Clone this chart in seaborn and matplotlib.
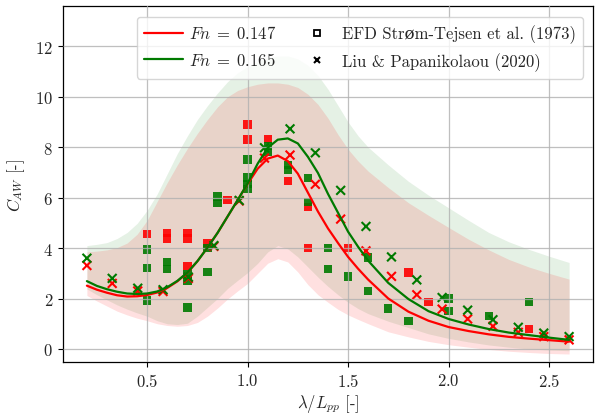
import matplotlib
matplotlib.use("Agg")
import matplotlib.pyplot as plt
from matplotlib.lines import Line2D
import numpy as np
import pandas as pd
import seaborn as sns

# curves (Fn = 0.147 red, Fn = 0.165 green)
x_curve = [0.2, 0.25, 0.3, 0.35, 0.4, 0.45, 0.5, 0.55, 0.6, 0.65, 0.7, 0.75, 0.8,
           0.85, 0.9, 0.95, 1.0, 1.05, 1.1, 1.15, 1.2, 1.25, 1.3, 1.35, 1.4, 1.45,
           1.5, 1.55, 1.6, 1.7, 1.8, 1.9, 2.0, 2.1, 2.2, 2.3, 2.4, 2.5, 2.6]
red_mean = [2.51, 2.35, 2.23, 2.13, 2.08, 2.09, 2.14, 2.24, 2.42, 2.68, 3.02, 3.48, 4.02,
            4.6, 5.25, 5.9, 6.55, 7.15, 7.55, 7.67, 7.45, 6.95, 6.2, 5.45, 4.78, 4.2,
            3.65, 3.18, 2.75, 2.0, 1.48, 1.12, 0.87, 0.71, 0.58, 0.48, 0.41, 0.35, 0.29]
green_mean = [2.69, 2.5, 2.37, 2.27, 2.2, 2.18, 2.2, 2.28, 2.45, 2.7, 3.03, 3.48, 4.02,
              4.6, 5.25, 5.9, 6.57, 7.35, 7.98, 8.3, 8.35, 8.15, 7.62, 6.98, 6.15, 5.4,
              4.65, 4.05, 3.5, 2.62, 1.98, 1.5, 1.19, 0.97, 0.79, 0.65, 0.55, 0.45, 0.36]

# uncertainty bands
red_upper = [3.85, 3.88, 3.93, 4.02, 4.2, 4.55, 5.1, 5.85, 6.6, 7.3, 7.95, 8.55, 9.1,
             9.6, 10.0, 10.25, 10.4, 10.5, 10.55, 10.55, 10.5, 10.37, 10.1, 9.7, 9.15, 8.5,
             7.92, 7.45, 7.05, 6.4, 5.8, 5.3, 4.82, 4.35, 3.93, 3.55, 3.25, 3.0, 2.77]
red_lower = [2.12, 1.9, 1.7, 1.5, 1.35, 1.22, 1.12, 1.0, 0.93, 0.9, 0.93, 1.05, 1.3,
             1.62, 1.98, 2.3, 2.6, 3.0, 3.4, 3.58, 3.45, 3.05, 2.55, 2.15, 1.85, 1.57,
             1.35, 1.17, 1.0, 0.68, 0.48, 0.3, 0.17, 0.07, -0.02, -0.09, -0.14, -0.18, -0.2]
green_upper = [4.1, 4.15, 4.22, 4.38, 4.62, 4.98, 5.5, 6.15, 6.95, 7.75, 8.45, 9.1, 9.65,
               10.15, 10.6, 10.95, 11.2, 11.4, 11.55, 11.62, 11.62, 11.5, 11.25, 10.85, 10.3, 9.65,
               9.0, 8.45, 8.0, 7.3, 6.65, 6.1, 5.6, 5.1, 4.62, 4.25, 3.95, 3.68, 3.43]
green_lower = [2.38, 2.15, 1.95, 1.75, 1.58, 1.43, 1.3, 1.12, 1.0, 0.97, 1.02, 1.3, 1.65,
               2.0, 2.4, 2.72, 3.03, 3.4, 3.85, 4.1, 3.97, 3.65, 3.25, 2.85, 2.48, 2.15,
               1.85, 1.6, 1.4, 1.1, 0.85, 0.6, 0.42, 0.28, 0.16, 0.07, 0.0, -0.04, -0.07]

# EFD Strom-Tejsen et al. (1973), squares
efd_red_x = [0.5, 0.6, 0.6, 0.7, 0.7, 0.7, 0.8, 0.9, 1.0, 1.0, 1.1, 1.2, 1.3, 1.3,
             1.5, 1.8, 1.9, 2.4]
efd_red_y = [4.55, 4.6, 4.38, 4.6, 4.38, 3.28, 4.18, 5.92, 8.9, 8.31, 8.33, 6.66, 5.63, 4.0,
             4.0, 3.03, 1.85, 0.79]
efd_green_x = [0.5, 0.5, 0.5, 0.6, 0.6, 0.7, 0.7, 0.7, 0.8, 0.8, 0.85, 0.85, 1.0, 1.0,
               1.0, 1.0, 1.1, 1.1, 1.2, 1.2, 1.3, 1.3, 1.4, 1.4, 1.5, 1.6, 1.6, 1.7,
               1.8, 2.0, 2.0, 2.2, 2.4]
efd_green_y = [3.95, 3.2, 1.92, 3.44, 3.17, 2.95, 2.72, 1.65, 4.0, 3.06, 6.05, 5.8, 7.52, 6.8,
               6.55, 6.35, 8.05, 7.8, 7.3, 7.1, 6.79, 5.83, 4.0, 3.17, 2.88, 3.63, 2.31, 1.61,
               1.1, 2.0, 1.5, 1.32, 1.85]

# Liu & Papanikolaou (2020), crosses
liu_x = [0.2, 0.326, 0.453, 0.579, 0.705, 0.832, 0.958, 1.084, 1.211, 1.337, 1.463,
         1.589, 1.716, 1.842, 1.968, 2.095, 2.221, 2.347, 2.474, 2.6]
liu_red = [3.31, 2.6, 2.3, 2.28, 2.8, 4.07, 5.87, 7.57, 7.69, 6.53, 5.15, 3.89, 2.88,
           2.15, 1.58, 1.19, 0.9, 0.66, 0.49, 0.36]
liu_green = [3.6, 2.8, 2.41, 2.35, 2.85, 4.1, 5.89, 7.98, 8.73, 7.78, 6.29, 4.86, 3.65,
             2.74, 2.04, 1.54, 1.16, 0.86, 0.63, 0.49]

RED = "#ff0000"
GREEN = "#007a00"

sns.set_theme(style="ticks")
plt.rcParams["font.family"] = ["cmr10", "DejaVu Serif"]
plt.rcParams["mathtext.fontset"] = "cm"
plt.rcParams["axes.formatter.use_mathtext"] = True
plt.rcParams["axes.unicode_minus"] = False

fig, ax = plt.subplots(figsize=(5.98, 4.14), dpi=100)
fig.subplots_adjust(left=0.105, right=0.992, bottom=0.123, top=0.983)

ax.fill_between(x_curve, green_lower, green_upper, color=GREEN, alpha=0.1, lw=0)
ax.fill_between(x_curve, red_lower, red_upper, color=RED, alpha=0.12, lw=0)

curves = pd.DataFrame({"x": x_curve * 2,
                       "y": red_mean + green_mean,
                       "Fn": ["0.147"] * len(x_curve) + ["0.165"] * len(x_curve)})
sns.lineplot(data=curves, x="x", y="y", hue="Fn", palette=[RED, GREEN],
             lw=1.6, legend=False, ax=ax, zorder=3)

efd = pd.DataFrame({"x": efd_red_x + efd_green_x,
                    "y": efd_red_y + efd_green_y,
                    "Fn": ["0.147"] * len(efd_red_x) + ["0.165"] * len(efd_green_x)})
sns.scatterplot(data=efd, x="x", y="y", hue="Fn", palette=[RED, GREEN], marker="s",
                s=36, linewidth=0, alpha=0.9, legend=False, ax=ax, zorder=2)

liu = pd.DataFrame({"x": liu_x * 2,
                    "y": liu_red + liu_green,
                    "Fn": ["0.147"] * len(liu_x) + ["0.165"] * len(liu_x)})
sns.scatterplot(data=liu, x="x", y="y", hue="Fn", palette=[RED, GREEN], marker="x",
                s=40, linewidth=1.5, legend=False, ax=ax, zorder=2.5)

ax.set_xlim(0.08, 2.72)
ax.set_ylim(-0.52, 13.6)
ax.set_xticks([0.5, 1.0, 1.5, 2.0, 2.5])
ax.set_yticks([0, 2, 4, 6, 8, 10, 12])
ax.grid(True, color="#b0b0b0", lw=0.9, alpha=0.8)
ax.set_axisbelow(False)
for s in ax.spines.values():
    s.set_color("black")
    s.set_linewidth(0.9)
ax.tick_params(labelsize=12, length=3.5, width=0.8, color="black")
ax.set_xlabel(r"$\lambda/L_{pp}$ [-]", fontsize=12, labelpad=2)
ax.set_ylabel(r"$C_{AW}$ [-]", fontsize=12, labelpad=6)

handles = [Line2D([], [], color=RED, lw=1.6),
           Line2D([], [], color=GREEN, lw=1.6),
           Line2D([], [], color="black", marker="s", ls="none", markersize=5,
                  markerfacecolor="none", markeredgewidth=1.3),
           Line2D([], [], color="black", marker="x", ls="none", markersize=5,
                  markeredgewidth=1.5)]
labels = [r"$Fn\;=\;0.147$", r"$Fn\;=\;0.165$",
          "EFD Strøm-Tejsen et al. (1973)", "Liu & Papanikolaou (2020)"]
ax.legend(handles, labels, ncol=2, loc="upper right", fontsize=12,
          handlelength=2.3, handletextpad=0.35, columnspacing=1.3,
          borderpad=0.45, labelspacing=0.55, framealpha=0.8, edgecolor="#cccccc",
          bbox_to_anchor=(0.997, 0.993))

fig.savefig("out.png", dpi=100)
